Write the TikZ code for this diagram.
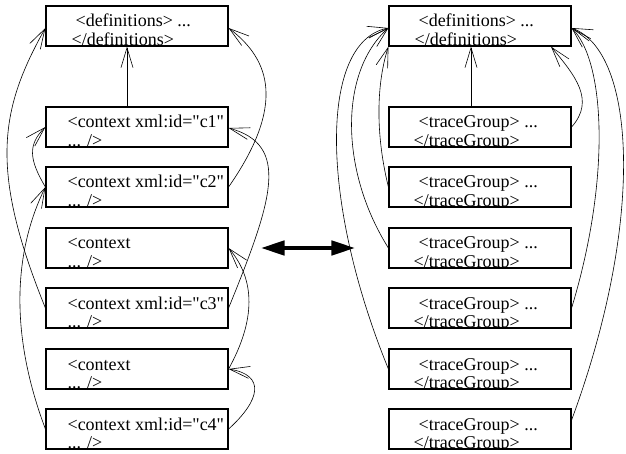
\documentclass[tikz,border=0pt]{standalone}
\usepackage{fontspec}
\setmainfont{Liberation Serif}[Ligatures=TeXOff]
\usetikzlibrary{arrows.meta}
\tikzset{
	xmlbox/.style={draw, line width=1.2pt, minimum width=182pt, minimum height=40pt, inner sep=0pt},
	boxline/.style={anchor=base west, inner sep=0pt, draw=none, minimum width=0pt, minimum height=0pt, font=\fontsize{18}{18}\selectfont},
	xmltext/.style n args={4}{path picture={
		\node[boxline] at ([xshift=#1, yshift=-21pt]path picture bounding box.north west) {#3};
		\node[boxline] at ([xshift=#2, yshift=-39.5pt]path picture bounding box.north west) {#4};
	}},
	defbox/.style={xmlbox, xmltext={29pt}{25pt}{<definitions> ...}{</definitions>}},
	ctxbox/.style={xmlbox, xmltext={21pt}{21pt}{#1}{... />}},
	tgbox/.style={xmlbox, xmltext={29pt}{24pt}{<traceGroup> ...}{</traceGroup>}},
	refline/.style={line width=0.6pt, -{Straight Barb[length=20pt,width=12pt]}},
	bothways/.style={line width=4.5pt, {Triangle[length=24pt,width=14pt]}-{Triangle[length=24pt,width=14pt]}},
}

\begin{document}
\begin{tikzpicture}[x=1pt, y=-1pt]
	%%%%% START %%%%%
	\useasboundingbox (0,0) rectangle (626,454);

	% contexts
	\node[defbox] (ldefs) at (137, 26) {};
	\node[ctxbox={<context xml:id="c1"}] (lc1) at (137, 127) {};
	\node[ctxbox={<context xml:id="c2"}] (lc2) at (137, 187) {};
	\node[ctxbox={<context}] (lctxa) at (137, 248) {};
	\node[ctxbox={<context xml:id="c3"}] (lc3) at (137, 308) {};
	\node[ctxbox={<context}] (lctxb) at (137, 369) {};
	\node[ctxbox={<context xml:id="c4"}] (lc4) at (137, 429) {};

	\draw[refline] ([xshift=-10pt]lc1.north) -- ([xshift=-10pt]ldefs.south);
	\draw[refline] (lc2.east) .. controls +(57,-82) and +(42,32) .. ([yshift=-2pt]ldefs.east);
	\draw[refline] (lc3.east) .. controls +(44,-108) and +(62,17) .. ([yshift=-1pt]lc1.east);
	\draw[refline] (lctxb.east) .. controls +(27,-49) and +(27,32) .. (lctxa.east);
	\draw[refline] (lc4.east) .. controls +(32,-29) and +(37,6) .. (lctxb.east);
	\draw[refline] (lc2.west) .. controls +(-16,-27) and +(-18,18) .. (lc1.west);
	\draw[refline] (lc3.west) .. controls +(-56,-138) and +(-46,82) .. ([yshift=-2pt]ldefs.west);
	\draw[refline] (lc4.west) .. controls +(-41,-109) and +(-26,53) .. (lc2.west);

	% trace groups
	\node[defbox] (rdefs) at (480, 26) {};
	\node[tgbox] (rtg1) at (480, 127) {};
	\node[tgbox] (rtg2) at (480, 187) {};
	\node[tgbox] (rtg3) at (480, 248) {};
	\node[tgbox] (rtg4) at (480, 308) {};
	\node[tgbox] (rtg5) at (480, 369) {};
	\node[tgbox] (rtg6) at (480, 429) {};

	\draw[refline] ([xshift=-9pt]rtg1.north) -- ([xshift=-9pt]rdefs.south);
	\draw[refline] (rtg1.east) .. controls +(24,-27) and +(24,29) .. ([xshift=71pt]rdefs.south);
	\draw[refline] (rtg2.west) .. controls +(-14,-57) and +(-11,34) .. (rdefs.south west);
	\draw[refline] (rtg3.west) .. controls +(-49,-78) and +(-49,44) .. ([yshift=-2pt]rdefs.west);
	\draw[refline] (rtg5.west) .. controls +(-69,-169) and +(-69,14) .. ([yshift=-2pt]rdefs.west);
	\draw[refline] (rtg4.east) .. controls +(39,-128) and +(34,34) .. ([yshift=-2pt]rdefs.east);
	\draw[refline] ([yshift=9pt]rtg6.east) .. controls +(74,-200) and +(64,24) .. ([yshift=-2pt]rdefs.east);

	\draw[bothways] ([xshift=32pt]lctxa.east) -- ([xshift=-33pt]rtg3.west);
	%%%%% END %%%%%
\end{tikzpicture}
\end{document}
